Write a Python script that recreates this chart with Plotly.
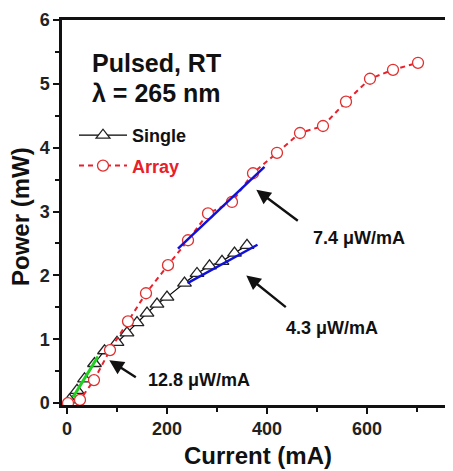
import plotly.graph_objects as go

# Data
single_x = [5, 20, 35, 55, 75, 100, 120, 140, 160, 180, 200, 235, 260, 285, 310, 335, 360]
single_y = [0.05, 0.2, 0.38, 0.62, 0.82, 0.95, 1.1, 1.26, 1.41, 1.55, 1.66, 1.88, 2.03, 2.15, 2.22, 2.35, 2.47]

array_x = [2, 26, 54, 86, 122, 158, 202, 242, 282, 330, 372, 420, 466, 512, 558, 606, 652, 702]
array_y = [0.0, 0.05, 0.36, 0.83, 1.28, 1.72, 2.16, 2.55, 2.97, 3.15, 3.6, 3.92, 4.23, 4.34, 4.72, 5.08, 5.22, 5.33]

# linear fits (endpoints of fitted segments)
fit_array_x = [222, 395]
fit_array_y = [2.42, 3.70]
fit_single_x = [241, 381]
fit_single_y = [1.88, 2.48]
fit_low_x = [12, 62]
fit_low_y = [0.09, 0.73]

x_tickvals = [0, 200, 400, 600]
y_tickvals = [0, 1, 2, 3, 4, 5, 6]

FONT = "Liberation Sans, Arial, sans-serif"
OFF = 8  # default page body margin
W, H = 453 - OFF, 471 - OFF
ML, MR, MT = 62 - OFF, 0, 20 - OFF
PH = 385
MB = H - MT - PH
PW = W - ML - MR


def px2paper(px, py):
    # px, py in page (screenshot) pixels
    fx, fy = px - OFF, py - OFF
    return (fx - ML) / PW, (H - MB - fy) / PH


fig = go.Figure()

fig.add_trace(go.Scatter(
    x=single_x, y=single_y, mode="lines+markers", name="Single",
    legendgroup="a",
    line=dict(color="black", width=1.2),
    marker=dict(symbol="triangle-up", size=12, color="white",
                line=dict(color="#222", width=1.3)),
))
fig.add_trace(go.Scatter(
    x=array_x, y=array_y, mode="lines+markers",
    name="<span style='color:#e8202a'>Array</span>",
    legendgroup="b",
    line=dict(color="#e8202a", width=2, dash="5px,4px"),
    marker=dict(symbol="circle", size=11, color="white",
                line=dict(color="#e03030", width=1.3)),
))
fig.add_trace(go.Scatter(x=fit_array_x, y=fit_array_y, mode="lines", showlegend=False,
                         line=dict(color="#1010d8", width=2.5)))
fig.add_trace(go.Scatter(x=fit_single_x, y=fit_single_y, mode="lines", showlegend=False,
                         line=dict(color="#1010d8", width=2.5)))
fig.add_trace(go.Scatter(x=fit_low_x, y=fit_low_y, mode="lines", showlegend=False,
                         line=dict(color="#20d020", width=3)))

anns = []
# arrows
for tip, off in [((378.6, 3.34), (43, 32)), ((358.6, 2.0), (41, 33)), ((84.6, 0.67), (28, 18))]:
    anns.append(dict(x=tip[0], y=tip[1], xref="x", yref="y", text="", showarrow=True,
                     ax=off[0], ay=off[1], arrowhead=2, arrowsize=1.2, arrowwidth=2.4,
                     arrowcolor="#111"))
for tx, ty, t in [(488.6, 2.58, "7.4 μW/mA"), (434.6, 1.17, "4.3 μW/mA"), (158.6, 0.36, "12.8 μW/mA")]:
    anns.append(dict(x=tx, y=ty, xref="x", yref="y", text=t, showarrow=False,
                     xanchor="left", yanchor="middle",
                     font=dict(family=FONT, size=18, color="#111", weight="bold")))
# headings
for py, t in [(63, "Pulsed, RT"), (93, "λ = 265 nm")]:
    x0, y0 = px2paper(90, py)
    anns.append(dict(x=x0, y=y0, xref="paper", yref="paper", text=t, showarrow=False,
                     xanchor="left", yanchor="middle",
                     font=dict(family=FONT, size=25, color="#111", weight="bold")))
# axis titles
x0, y0 = px2paper(258, 455)
anns.append(dict(x=x0, y=y0, xref="paper", yref="paper", text="Current (mA)", showarrow=False,
                 xanchor="center", yanchor="middle",
                 font=dict(family=FONT, size=24, color="#111", weight="bold")))
x0, y0 = px2paper(20, 217)
anns.append(dict(x=x0, y=y0, xref="paper", yref="paper", text="Power (mW)", showarrow=False,
                 xanchor="center", yanchor="middle", textangle=-90,
                 font=dict(family=FONT, size=24, color="#111", weight="bold")))

lx, ly = px2paper(74, 117)
fig.update_layout(
    width=W, height=H,
    margin=dict(l=ML, r=MR, t=MT, b=MB, autoexpand=False),
    paper_bgcolor="white", plot_bgcolor="white",
    font=dict(family=FONT, color="#111"),
    annotations=anns,
    showlegend=True,
    legend=dict(x=lx, y=ly, xanchor="left", yanchor="top",
                bgcolor="rgba(0,0,0,0)", tracegroupgap=4, itemwidth=48,
                font=dict(family=FONT, size=18, color="#111", weight="bold")),
)
fig.update_xaxes(
    range=[-10, 772], showgrid=False, zeroline=False, automargin=False,
    showline=True, linecolor="#111", linewidth=2.5, mirror=True,
    tickvals=x_tickvals, ticks="outside", ticklen=6, tickwidth=2, tickcolor="#111",
    minor=dict(dtick=100, tick0=0, ticks="outside", ticklen=4, tickwidth=1.5, tickcolor="#111"),
    tickfont=dict(family=FONT, size=18, color="#222", weight="bold"),
)
fig.update_yaxes(
    range=[-0.03, 6], showgrid=False, zeroline=False, automargin=False,
    showline=True, linecolor="#111", linewidth=2.5, mirror=False,
    tickvals=y_tickvals, ticks="outside", ticklen=6, tickwidth=2, tickcolor="#111",
    minor=dict(dtick=0.5, tick0=0, ticks="outside", ticklen=4, tickwidth=1.5, tickcolor="#111"),
    tickfont=dict(family=FONT, size=18, color="#222", weight="bold"),
)

fig.write_html("out.html")
